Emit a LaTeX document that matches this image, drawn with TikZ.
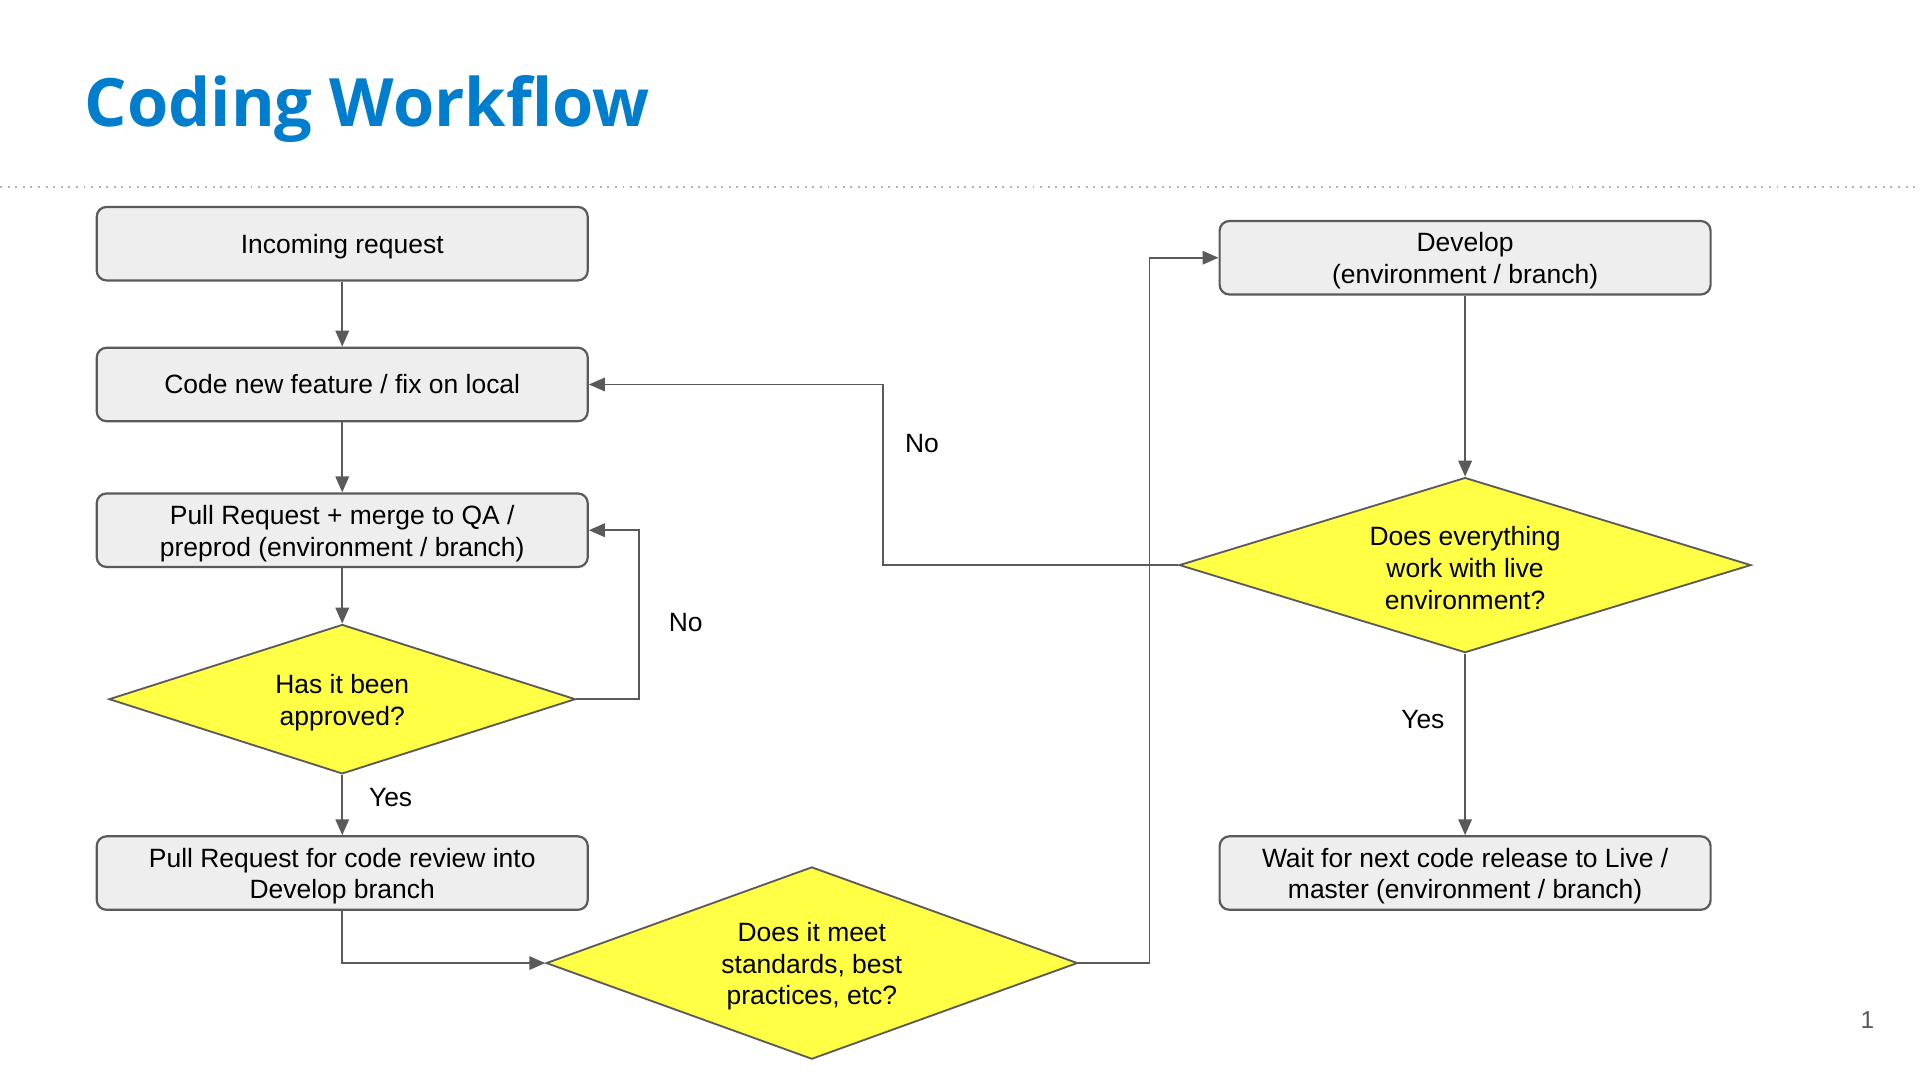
\documentclass[tikz,border=0pt]{standalone}
\usepackage{fontspec}
\setmainfont{Liberation Sans}
\newfontfamily\titlefont{Open Sans}
\usetikzlibrary{shapes.geometric,arrows.meta}
\definecolor{titleblue}{RGB}{0,125,205}
\definecolor{boxfill}{RGB}{238,238,238}
\definecolor{linegray}{RGB}{90,90,90}
\definecolor{diayellow}{RGB}{255,255,70}
\newcommand\tup{\rule{0pt}{20.8pt}}
\tikzset{
  box/.style={draw=linegray, line width=1.8pt, fill=boxfill, rounded corners=8pt,
    minimum width=401pt, minimum height=60pt, inner sep=0pt, align=center,
    font=\fontsize{21.6}{26}\selectfont},
  decision/.style={draw=linegray, line width=1.5pt, fill=diayellow, diamond, inner sep=0pt,
    align=center, font=\fontsize{21.6}{26}\selectfont},
  conn/.style={draw=linegray, line width=1.5pt, -{Triangle[length=13pt,width=11pt]}},
  lbl/.style={font=\fontsize{21.6}{26}\selectfont, inner sep=0pt}
}
\begin{document}
\begin{tikzpicture}[x=1pt,y=-1pt]
\useasboundingbox (0,0) rectangle (1568,882);
% title
\node[anchor=base west, inner sep=0pt, text=titleblue, font=\titlefont\bfseries\fontsize{54.5}{60}\selectfont] (title) at (69,103) {Coding Workflow};
\coordinate (dl) at (0,153);
\coordinate (dr) at (1568,153);
\draw[gray!60, line width=1.6pt, dash pattern=on 1.6pt off 4.6pt] (dl) -- (dr);
% boxes
\node[box] (inc) at (279.5,199) {\tup Incoming request};
\node[box] (code) at (279.5,314) {Code new feature / fix on local};
\node[box] (pr) at (279.5,433) {\tup Pull Request + merge to QA /\\preprod (environment / branch)};
\node[decision, aspect=3.123, minimum width=381pt, minimum height=122pt] (d1) at (279.5,571) {\tup Has it been\\approved?};
\node[box] (rev) at (279.5,713) {\tup Pull Request for code review into\\Develop branch};
\node[decision, aspect=2.764, minimum width=434pt, minimum height=157pt] (d2) at (663,786.5) {\tup Does it meet\\standards, best\\practices, etc?};
\node[box] (dev) at (1196.5,210.5) {\tup Develop\\(environment / branch)};
\node[decision, aspect=3.266, minimum width=467pt, minimum height=143pt] (d3) at (1196.5,461.5) {\tup Does everything\\work with live\\environment?};
\node[box] (wait) at (1196.5,713) {\tup Wait for next code release to Live /\\master (environment / branch)};
% connectors
\draw[conn] (inc.south) -- (code.north);
\draw[conn] (code.south) -- (pr.north);
\draw[conn] (pr.south) -- (d1.north);
\draw[conn] (d1.east) -- ++(51,0) |- (pr.east);
\draw[conn] (d1.south) -- (rev.north);
\draw[conn] (rev.south) |- (d2.west);
\draw[conn] (d2.east) -- ++(58,0) |- (dev.west);
\draw[conn] (dev.south) -- (d3.north);
\draw[conn] (d3.west) -- ++(-241,0) |- (code.east);
\draw[conn] (d3.south) -- (wait.north);
% labels
\node[lbl] (no1) at (560,508) {No};
\node[lbl] (yes1) at (319,651) {Yes};
\node[lbl] (no2) at (753,362) {No};
\node[lbl] (yes2) at (1162,588) {Yes};
\node[lbl, text=linegray, font=\fontsize{20}{24}\selectfont] (pg) at (1525,833) {1};
\end{tikzpicture}
\end{document}
